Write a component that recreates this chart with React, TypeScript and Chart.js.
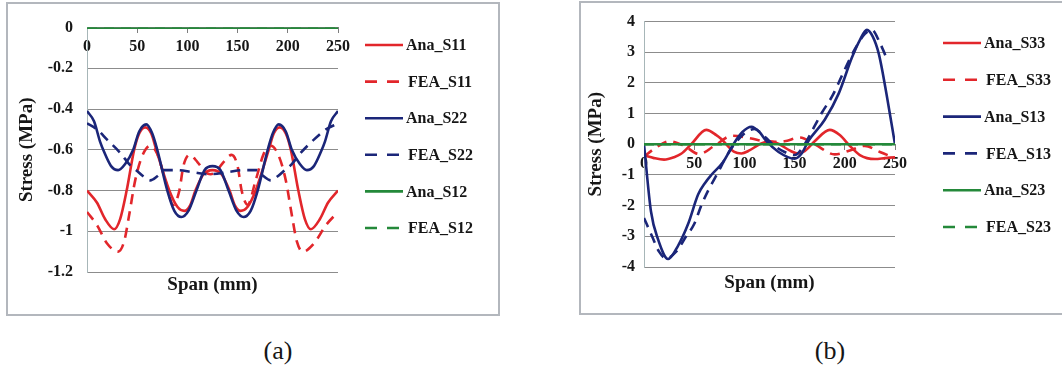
import React, { useEffect, useRef } from 'react';
import { Chart, registerables } from 'chart.js';

Chart.register(...registerables);

// ---------- Panel (a) data ----------
const anaS11Span = [0, 10, 18, 27, 33, 39.5, 47, 52, 58, 64, 69, 82, 90, 97, 103, 108, 116, 125, 134, 142, 147, 153, 160, 168, 181, 186, 192, 198, 203, 210.5, 217, 223, 232, 240, 250];
const anaS11 = [-0.80, -0.86, -0.94, -0.99, -0.94, -0.80, -0.60, -0.52, -0.49, -0.52, -0.60, -0.80, -0.88, -0.90, -0.87, -0.80, -0.72, -0.70, -0.72, -0.80, -0.87, -0.90, -0.88, -0.80, -0.60, -0.52, -0.49, -0.52, -0.60, -0.80, -0.94, -0.99, -0.94, -0.86, -0.80];

const feaS11Span = [0, 10, 20, 31, 37, 42, 48, 55, 63, 70, 78, 86, 92, 96, 102, 110, 118, 123, 128, 136, 144, 150, 154, 160, 168, 176, 183, 191, 198, 204, 209, 215, 226, 238, 250];
const feaS11 = [-0.905, -0.97, -1.06, -1.10, -1.05, -0.92, -0.75, -0.63, -0.58, -0.62, -0.75, -0.87, -0.80, -0.68, -0.625, -0.66, -0.71, -0.72, -0.71, -0.66, -0.625, -0.68, -0.80, -0.87, -0.75, -0.62, -0.58, -0.63, -0.75, -0.92, -1.05, -1.10, -1.06, -0.97, -0.905];

const anaS22Span = [0, 7, 13, 17, 24, 31, 38, 46, 52, 59, 65, 70, 80, 87, 94, 101, 109, 117, 125, 133, 141, 149, 156, 163, 170, 180, 185, 191, 198, 204, 212, 219, 226, 233, 237, 243, 250];
const anaS22 = [-0.41, -0.46, -0.56, -0.61, -0.68, -0.70, -0.67, -0.60, -0.51, -0.475, -0.52, -0.60, -0.80, -0.90, -0.93, -0.90, -0.80, -0.70, -0.68, -0.70, -0.80, -0.90, -0.93, -0.90, -0.80, -0.60, -0.52, -0.475, -0.51, -0.60, -0.67, -0.70, -0.68, -0.61, -0.56, -0.46, -0.41];

const feaS22Span = [0, 10, 20, 34, 42, 49, 56, 63, 70, 77, 90, 105, 122, 140, 156, 169, 176, 183, 190, 197, 204, 212, 226, 238, 250];
const feaS22 = [-0.47, -0.50, -0.55, -0.62, -0.67, -0.70, -0.73, -0.75, -0.73, -0.70, -0.70, -0.71, -0.72, -0.71, -0.70, -0.70, -0.73, -0.75, -0.73, -0.70, -0.67, -0.62, -0.55, -0.50, -0.47];

const s12Span = [0, 50, 100, 150, 200, 250];
const anaS12 = [0, 0, 0, 0, 0, 0];
const feaS12 = [0, 0, 0, 0, 0, 0];

// ---------- Panel (b) data ----------
const anaS33Span = [0, 10, 20, 30, 37, 47, 62, 72, 77, 90, 97, 105, 115, 125, 135, 145, 153, 160, 170, 185, 195, 205, 215, 230, 240, 250];
const anaS33 = [-0.36, -0.45, -0.50, -0.42, -0.31, 0.0, 0.47, 0.30, 0.17, -0.25, -0.30, -0.20, 0.0, 0.10, 0.0, -0.20, -0.30, -0.22, 0.10, 0.47, 0.30, -0.05, -0.35, -0.48, -0.45, -0.42];

const feaS33Span = [0, 10, 25, 40, 55, 70, 88, 105, 125, 140, 155, 170, 190, 205, 220, 235, 250];
const feaS33 = [-0.40, -0.15, 0.10, -0.05, -0.32, -0.05, 0.28, 0.20, 0.08, 0.10, 0.22, 0.0, -0.33, -0.20, -0.05, -0.25, -0.45];

const anaS13Span = [0, 7, 14, 24, 34, 44, 54, 61, 67, 79, 89, 98, 107, 115, 122, 134, 150, 157, 164, 180, 194, 207, 215, 222, 228, 234, 242, 250];
const anaS13 = [0, -2.2, -3.1, -3.74, -3.3, -2.59, -1.63, -1.25, -1.0, -0.57, 0, 0.4, 0.57, 0.4, 0.1, -0.25, -0.47, -0.3, 0.12, 0.8, 1.66, 2.82, 3.4, 3.73, 3.5, 2.93, 1.55, 0];

const feaS13Span = [0, 8, 15, 22, 32, 42, 50, 57, 64, 74, 82, 90, 100, 110, 120, 130, 140, 150, 160, 170, 177, 188, 198, 210, 220, 227, 235, 243];
const feaS13 = [-2.4, -3.0, -3.5, -3.72, -3.5, -3.0, -2.6, -2.0, -1.5, -0.9, -0.4, 0, 0.35, 0.5, 0.25, -0.05, -0.25, -0.35, 0.0, 0.6, 1.02, 1.6, 2.3, 3.1, 3.6, 3.73, 3.3, 2.7];

const s23Span = [0, 50, 100, 150, 200, 250];
const anaS23 = [0, 0, 0, 0, 0, 0];
const feaS23 = [0, 0, 0, 0, 0, 0];

// ---------- Axis ticks ----------
const spanTicks = [0, 50, 100, 150, 200, 250];
const stressTicksA = [0, -0.2, -0.4, -0.6, -0.8, -1, -1.2];
const stressTicksB = [4, 3, 2, 1, 0, -1, -2, -3, -4];

const SERIF = '"Liberation Serif", "Times New Roman", serif';
const RED = '#e2262b';
const BLUE = '#1b2679';
const GREEN = '#24893a';
const TEXT = '#161616';

type Series = { label: string; span: number[]; values: number[]; color: string; dashed: boolean };

const seriesA: Series[] = [
  { label: 'Ana_S11', span: anaS11Span, values: anaS11, color: RED, dashed: false },
  { label: 'FEA_S11', span: feaS11Span, values: feaS11, color: RED, dashed: true },
  { label: 'Ana_S22', span: anaS22Span, values: anaS22, color: BLUE, dashed: false },
  { label: 'FEA_S22', span: feaS22Span, values: feaS22, color: BLUE, dashed: true },
  { label: 'Ana_S12', span: s12Span, values: anaS12, color: GREEN, dashed: false },
  { label: 'FEA_S12', span: s12Span, values: feaS12, color: GREEN, dashed: true },
];

const seriesB: Series[] = [
  { label: 'Ana_S33', span: anaS33Span, values: anaS33, color: RED, dashed: false },
  { label: 'FEA_S33', span: feaS33Span, values: feaS33, color: RED, dashed: true },
  { label: 'Ana_S13', span: anaS13Span, values: anaS13, color: BLUE, dashed: false },
  { label: 'FEA_S13', span: feaS13Span, values: feaS13, color: BLUE, dashed: true },
  { label: 'Ana_S23', span: s23Span, values: anaS23, color: GREEN, dashed: false },
  { label: 'FEA_S23', span: s23Span, values: feaS23, color: GREEN, dashed: true },
];

const sideLegend = {
  id: 'sideLegend',
  afterDraw(chart: any, _args: any, opts: any) {
    const ctx = chart.ctx;
    ctx.save();
    ctx.font = `bold ${opts.fontSize}px ${SERIF}`;
    ctx.textBaseline = 'middle';
    ctx.textAlign = 'left';
    ctx.fillStyle = TEXT;
    chart.data.datasets.forEach((ds: any, i: number) => {
      const y = opts.y + i * opts.rowGap;
      const dashed = ds.borderDash && ds.borderDash.length;
      ctx.beginPath();
      ctx.lineWidth = ds.borderWidth;
      ctx.strokeStyle = ds.borderColor;
      ctx.setLineDash(dashed ? opts.dash : []);
      ctx.moveTo(opts.x, y);
      ctx.lineTo(opts.x + opts.lineLen, y);
      ctx.stroke();
      ctx.setLineDash([]);
      ctx.fillText(ds.label, opts.textX + (dashed ? 2 : 0), y + 1);
    });
    ctx.restore();
  },
};

type PanelProps = {
  series: Series[];
  left: number;
  top: number;
  width: number;
  height: number;
  area: { left: number; top: number; right: number; bottom: number };
  yMin: number;
  yMax: number;
  yTicks: number[];
  yTickPad: number;
  yTitlePad: number;
  xTitlePad: number;
  legend: { x: number; y: number; rowGap: number; lineLen: number; textX: number };
};

function Panel(p: PanelProps) {
  const ref = useRef<HTMLCanvasElement>(null);
  useEffect(() => {
    const tickFont = { family: SERIF, size: 16, weight: 'bold' as const };
    const titleFont = { family: SERIF, size: 19, weight: 'bold' as const };
    const chart = new Chart(ref.current as HTMLCanvasElement, {
      type: 'line',
      data: {
        datasets: p.series.map((s, i) => ({
          label: s.label,
          data: s.span.map((x, k) => ({ x, y: s.values[k] })),
          borderColor: s.color,
          backgroundColor: s.color,
          borderWidth: 2.6,
          borderDash: s.dashed ? [10, 7] : [],
          pointRadius: 0,
          cubicInterpolationMode: 'monotone' as const,
          fill: false,
          order: p.series.length - i,
        })),
      },
      options: {
        responsive: false,
        animation: false,
        events: [],
        layout: { padding: { left: 0, top: p.area.top, right: p.width - p.area.right, bottom: 0 } },
        plugins: {
          legend: { display: false },
          tooltip: { enabled: false },
          sideLegend: { ...p.legend, fontSize: 16, dash: [12, 10] },
        } as any,
        scales: {
          x: {
            type: 'linear',
            min: 0,
            max: 250,
            position: { y: 0 } as any,
            afterBuildTicks: (s: any) => { s.ticks = spanTicks.map((v) => ({ value: v })); },
            ticks: { color: TEXT, font: tickFont, padding: 5, maxRotation: 0 },
            grid: { drawOnChartArea: false, tickLength: 5, color: '#7d7d7d' },
            border: { color: '#7d7d7d' },
            afterFit: (s: any) => { s.height = 0; },
          },
          xt: {
            type: 'linear',
            min: 0,
            max: 250,
            position: 'bottom',
            ticks: { display: false },
            grid: { display: false },
            border: { display: false },
            title: { display: true, text: 'Span (mm)', color: TEXT, font: titleFont, padding: { top: 0, bottom: p.xTitlePad } },
            afterFit: (s: any) => { s.height = p.height - p.area.bottom; },
          },
          y: {
            type: 'linear',
            min: p.yMin,
            max: p.yMax,
            position: 'left',
            afterBuildTicks: (s: any) => { s.ticks = p.yTicks.map((v) => ({ value: v })); },
            ticks: {
              color: TEXT,
              font: tickFont,
              padding: p.yTickPad,
              callback: (v: any) => String(Math.round(Number(v) * 10) / 10),
            },
            grid: { color: '#8c8c8c', lineWidth: 1, drawTicks: false },
            border: { color: '#a7b6b8' },
            title: { display: true, text: 'Stress (MPa)', color: TEXT, font: titleFont, padding: { top: p.yTitlePad, bottom: 0 } },
            afterFit: (s: any) => { s.width = p.area.left; },
          },
        } as any,
      },
      plugins: [sideLegend],
    } as any);
    return () => chart.destroy();
  }, []);
  return (
    <canvas
      ref={ref}
      width={p.width}
      height={p.height}
      style={{ position: 'absolute', left: p.left, top: p.top, width: p.width, height: p.height }}
    />
  );
}

export default function App() {
  const boxStyle = (left: number, top: number, width: number, height: number): React.CSSProperties => ({
    position: 'absolute',
    left,
    top,
    width,
    height,
    boxSizing: 'border-box',
    border: '2px solid #b3b7bd',
    background: '#ffffff',
  });
  const caption: React.CSSProperties = {
    position: 'absolute',
    top: 336,
    fontFamily: SERIF,
    fontSize: 26,
    color: TEXT,
    transform: 'translateX(-50%)',
    whiteSpace: 'nowrap',
  };
  return (
    <div style={{ position: 'absolute', left: 0, top: 0, width: 1062, height: 387, overflow: 'hidden', background: '#fff' }}>
      <div style={boxStyle(6, 2, 494, 314)} />
      <div style={boxStyle(579, 1, 500, 314)} />
      <Panel
        series={seriesA}
        left={8}
        top={4}
        width={490}
        height={310}
        area={{ left: 79, top: 17, right: 330, bottom: 268 }}
        yMin={-1.2}
        yMax={0}
        yTicks={stressTicksA}
        yTickPad={14}
        yTitlePad={7.6}
        xTitlePad={17.6}
        legend={{ x: 357, y: 41, rowGap: 36.6, lineLen: 38, textX: 398 }}
      />
      <Panel
        series={seriesB}
        left={581}
        top={3}
        width={481}
        height={310}
        area={{ left: 63, top: 13, right: 314, bottom: 264 }}
        yMin={-4}
        yMax={4}
        yTicks={stressTicksB}
        yTickPad={9}
        yTitlePad={3.6}
        xTitlePad={18.6}
        legend={{ x: 362, y: 40, rowGap: 36.8, lineLen: 38, textX: 403 }}
      />
      <div style={{ ...caption, left: 278 }}>(a)</div>
      <div style={{ ...caption, left: 830 }}>(b)</div>
    </div>
  );
}
